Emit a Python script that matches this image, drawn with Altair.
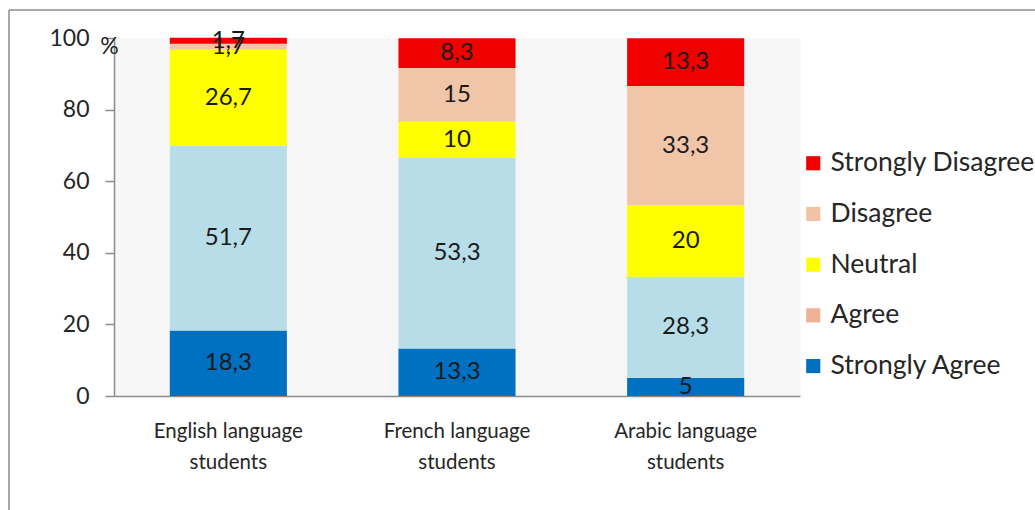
import altair as alt
import pandas as pd

groups = ["English language\nstudents", "French language\nstudents", "Arabic language\nstudents"]
categories = ["Strongly Agree", "Agree", "Neutral", "Disagree", "Strongly Disagree"]
english = [18.3, 51.7, 26.7, 1.7, 1.7]
french = [13.3, 53.3, 10, 15, 8.3]
arabic = [5, 28.3, 20, 33.3, 13.3]

legend_order = ["Strongly Disagree", "Disagree", "Neutral", "Agree", "Strongly Agree"]
legend_colors = ["#f20000", "#f2c2a4", "#ffff00", "#f0b294", "#0070c0"]
bar_colors = ["#f20000", "#f1c5a8", "#ffff00", "#b7dde8", "#0070c0"]

rows = []
for g, vals in zip(groups, [english, french, arabic]):
    for i, (c, v) in enumerate(zip(categories, vals)):
        rows.append({"group": g, "cat": c, "value": v, "ord": i,
                     "label": f"{v:g}".replace(".", ",")})
df = pd.DataFrame(rows)

FONT = "Lato"
TXT = "#262626"
base = alt.Chart(df).transform_stack(
    stack="value", groupby=["group"], as_=["y0", "y1"],
    sort=[alt.SortField("ord", order="ascending")]
).transform_calculate(mid="(datum.y0 + datum.y1) / 2")

xenc = alt.X("group:N", sort=groups, title=None,
             scale=alt.Scale(paddingInner=0.488, paddingOuter=0.244),
             axis=alt.Axis(labelExpr="split(datum.label, '\\n')", labelAngle=0,
                           ticks=False, labelPadding=25, labelFontSize=20.5,
                           labelLineHeight=31, labelColor=TXT,
                           domainColor="#8c8c8c", domainWidth=1.5, labelFont=FONT))
yscale = alt.Scale(domain=[0, 100])
yaxis = alt.Axis(values=[0, 20, 40, 60, 80, 100], grid=False, tickSize=9,
                 tickColor="#8c8c8c", domainColor="#8c8c8c", domainWidth=1.5,
                 tickWidth=1.5, labelPadding=16, labelFontSize=23, labelColor=TXT,
                 labelFont=FONT, title="%", titleAngle=0, titleX=-5, titleY=8,
                 titleAlign="center", titleBaseline="middle", titleFontSize=23,
                 titleFontWeight="normal", titleColor=TXT, titleFont=FONT)

ghost = base.mark_bar(opacity=0).encode(
    x=xenc,
    y=alt.Y("y0:Q", scale=yscale, axis=yaxis),
    y2="y1:Q",
    color=alt.Color("cat:N", scale=alt.Scale(domain=legend_order, range=legend_colors),
                    legend=alt.Legend(title=None, orient="none", legendX=686, legendY=112,
                                      symbolType="square", symbolSize=200,
                                      symbolOpacity=1, symbolStrokeWidth=0,
                                      labelFontSize=26.5, labelFont=FONT,
                                      labelColor=TXT, rowPadding=23.7,
                                      labelOffset=4, labelLimit=400)),
)

bars = base.mark_bar().encode(
    x=alt.X("group:N", sort=groups),
    y=alt.Y("y0:Q", scale=yscale),
    y2="y1:Q",
    fill=alt.Fill("cat:N", scale=alt.Scale(domain=legend_order, range=bar_colors),
                  legend=None),
)

texts = base.mark_text(fontSize=24, font=FONT, color="#1a1a1a", baseline="middle").encode(
    x=alt.X("group:N", sort=groups),
    y=alt.Y("mid:Q", scale=yscale),
    text="label:N",
)

frame = alt.Chart(alt.Data(values=[{}]))
left_line = frame.mark_rule(color="#8c8c8c", strokeWidth=1.5).encode(
    x=alt.value(-105), y=alt.value(-28), y2=alt.value(480))
top_line = frame.mark_rule(color="#8c8c8c", strokeWidth=1.5).encode(
    x=alt.value(-105), x2=alt.value(930), y=alt.value(-28))

chart = alt.layer(ghost, bars, texts, left_line, top_line).properties(
    width=686, height=358,
    autosize=alt.AutoSizeParams(type="none"),
    padding={"left": 114, "top": 38, "right": 235, "bottom": 114},
    background="white",
).configure_view(fill="#f6f6f6", stroke="transparent")

chart.save("out.html", embed_options={"renderer": "svg", "actions": False})
